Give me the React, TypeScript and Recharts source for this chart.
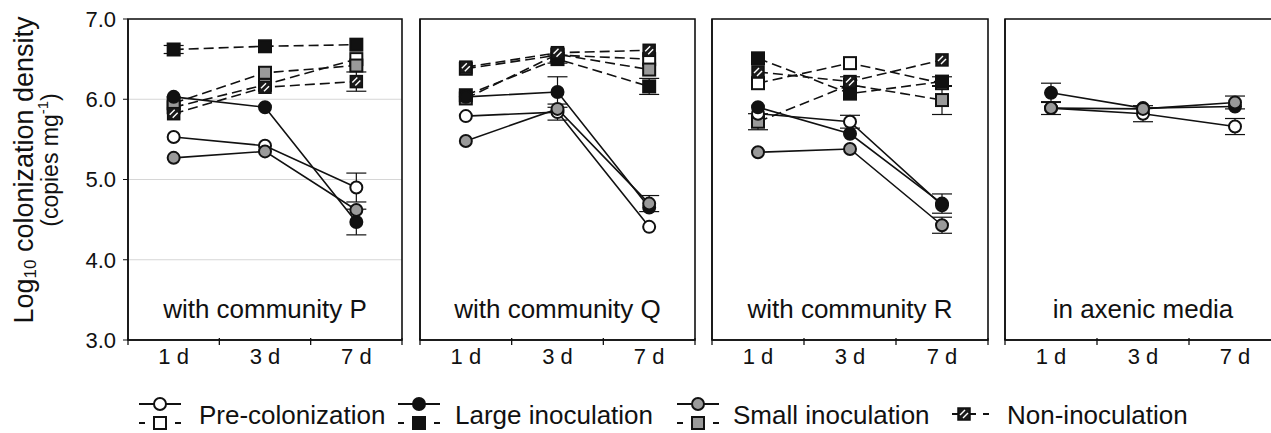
import React from "react";
import {
  LineChart,
  Line,
  XAxis,
  YAxis,
  CartesianGrid,
  ErrorBar,
  ReferenceArea,
} from "recharts";

const days = ["1 d", "3 d", "7 d"];
const panelTitles = ["with community P", "with community Q", "with community R", "in axenic media"];
const yTicks = [3, 4, 5, 6, 7];

// community P
const pPreC = [5.53, 5.42, 4.9];
const pLargeC = [6.03, 5.9, 4.47];
const pSmallC = [5.27, 5.35, 4.62];
const pPreS = [5.9, 6.18, 6.5];
const pLargeS = [6.62, 6.66, 6.68];
const pSmallS = [5.95, 6.33, 6.42];
const pNonS = [5.82, 6.15, 6.22];
// error bars (0 = hidden behind the marker)
const pPreCErr = [0, 0, 0.18];
const pLargeCErr = [0, 0, 0.16];
const pSmallCErr = [0, 0, 0];
const pPreSErr = [0, 0, 0];
const pLargeSErr = [0.05, 0, 0];
const pSmallSErr = [0, 0, 0];
const pNonSErr = [0, 0, 0.12];

// community Q
const qPreC = [5.79, 5.84, 4.41];
const qLargeC = [6.03, 6.09, 4.65];
const qSmallC = [5.48, 5.88, 4.7];
const qPreS = [6.38, 6.55, 6.5];
const qLargeS = [6.05, 6.5, 6.16];
const qSmallS = [6.01, 6.56, 6.37];
const qNonS = [6.4, 6.58, 6.61];
const qPreCErr = [0, 0.1, 0];
const qLargeCErr = [0, 0.19, 0];
const qSmallCErr = [0, 0, 0.1];
const qPreSErr = [0, 0, 0];
const qLargeSErr = [0, 0.05, 0.1];
const qSmallSErr = [0, 0, 0];
const qNonSErr = [0, 0, 0];

// community R
const rPreC = [5.82, 5.72, 4.68];
const rLargeC = [5.9, 5.57, 4.7];
const rSmallC = [5.34, 5.38, 4.43];
const rPreS = [6.2, 6.45, 6.2];
const rLargeS = [6.51, 6.07, 6.22];
const rSmallS = [5.72, 6.18, 5.99];
const rNonS = [6.34, 6.22, 6.49];
const rPreCErr = [0, 0.08, 0];
const rLargeCErr = [0, 0, 0.12];
const rSmallCErr = [0, 0, 0.1];
const rPreSErr = [0, 0, 0];
const rLargeSErr = [0, 0, 0.06];
const rSmallSErr = [0.1, 0, 0.18];
const rNonSErr = [0, 0.06, 0];

// axenic media
const aPreC = [5.89, 5.82, 5.66];
const aLargeC = [6.08, 5.89, 5.91];
const aSmallC = [5.89, 5.88, 5.96];
const aPreCErr = [0.08, 0.1, 0.1];
const aLargeCErr = [0.12, 0, 0];
const aSmallCErr = [0, 0, 0.08];

type Kind = "circle" | "square";
type SeriesDef = { key: string; kind: Kind; fill: string };

const squareSeries: SeriesDef[] = [
  { key: "preS", kind: "square", fill: "#ffffff" },
  { key: "smallS", kind: "square", fill: "#9a9a9a" },
  { key: "largeS", kind: "square", fill: "#111111" },
  { key: "nonS", kind: "square", fill: "hatch" },
];
const circleSeries: SeriesDef[] = [
  { key: "preC", kind: "circle", fill: "#ffffff" },
  { key: "largeC", kind: "circle", fill: "#111111" },
  { key: "smallC", kind: "circle", fill: "#9a9a9a" },
];

function buildRows(values: Record<string, number[]>, errors: Record<string, number[]>) {
  return days.map((d, i) => {
    const row: Record<string, number | string> = { day: d, x: i + 0.5 };
    Object.keys(values).forEach((k) => {
      row[k] = values[k][i];
      row[k + "Err"] = errors[k][i];
    });
    return row;
  });
}

const panelRows = [
  buildRows(
    { preC: pPreC, largeC: pLargeC, smallC: pSmallC, preS: pPreS, largeS: pLargeS, smallS: pSmallS, nonS: pNonS },
    { preC: pPreCErr, largeC: pLargeCErr, smallC: pSmallCErr, preS: pPreSErr, largeS: pLargeSErr, smallS: pSmallSErr, nonS: pNonSErr }
  ),
  buildRows(
    { preC: qPreC, largeC: qLargeC, smallC: qSmallC, preS: qPreS, largeS: qLargeS, smallS: qSmallS, nonS: qNonS },
    { preC: qPreCErr, largeC: qLargeCErr, smallC: qSmallCErr, preS: qPreSErr, largeS: qLargeSErr, smallS: qSmallSErr, nonS: qNonSErr }
  ),
  buildRows(
    { preC: rPreC, largeC: rLargeC, smallC: rSmallC, preS: rPreS, largeS: rLargeS, smallS: rSmallS, nonS: rNonS },
    { preC: rPreCErr, largeC: rLargeCErr, smallC: rSmallCErr, preS: rPreSErr, largeS: rLargeSErr, smallS: rSmallSErr, nonS: rNonSErr }
  ),
  buildRows(
    { preC: aPreC, largeC: aLargeC, smallC: aSmallC },
    { preC: aPreCErr, largeC: aLargeCErr, smallC: aSmallCErr }
  ),
];

const layout = [
  { left: 0, axisW: 128, plotW: 274 },
  { left: 408, axisW: 12, plotW: 275 },
  { left: 700, axisW: 12, plotW: 276 },
  { left: 993, axisW: 12, plotW: 276 },
];

const INK = "#111";
const FONT = "'Liberation Sans', Arial, sans-serif";

function Marker({ cx, cy, kind, fill }: { cx: number; cy: number; kind: Kind; fill: string }) {
  if (kind === "circle") {
    return <circle cx={cx} cy={cy} r={6} fill={fill} stroke={INK} strokeWidth={2} />;
  }
  if (fill === "hatch") {
    return (
      <g>
        <rect x={cx - 6} y={cy - 6} width={12} height={12} fill="#1a1a1a" stroke={INK} strokeWidth={1.5} />
        <line x1={cx - 4} y1={cy + 1} x2={cx + 1} y2={cy - 4} stroke="#fff" strokeWidth={1.4} />
        <line x1={cx - 1} y1={cy + 4} x2={cx + 4} y2={cy - 1} stroke="#fff" strokeWidth={1.4} />
      </g>
    );
  }
  return <rect x={cx - 6} y={cy - 6} width={12} height={12} fill={fill} stroke={INK} strokeWidth={2} />;
}

function XTick(props: any) {
  const { x, y, payload } = props;
  const v = payload.value as number;
  if (Number.isInteger(v)) {
    return <line x1={x} y1={y - 2} x2={x} y2={y + 5} stroke={INK} strokeWidth={1.3} />;
  }
  return (
    <text x={x} y={y + 8} dy="0.71em" textAnchor="middle" fontSize={22} fill={INK} fontFamily={FONT}>
      {days[Math.floor(v)]}
    </text>
  );
}

function Panel({ index }: { index: number }) {
  const { left, axisW, plotW } = layout[index];
  const rows = panelRows[index];
  const series = index === 3 ? circleSeries : [...squareSeries, ...circleSeries];
  const first = index === 0;
  return (
    <div style={{ position: "absolute", left, top: 0 }}>
      <LineChart
        width={axisW + plotW + 4}
        height={380}
        data={rows}
        margin={{ top: 19, right: 4, bottom: 10, left: 0 }}
      >
        <CartesianGrid vertical={false} stroke="#d6d6d6" strokeWidth={1.2} />
        <XAxis
          type="number"
          dataKey="x"
          domain={[0, 3]}
          ticks={[0, 0.5, 1, 1.5, 2, 2.5, 3]}
          interval={0}
          tickLine={false}
          tickSize={0}
          tickMargin={0}
          height={30}
          axisLine={{ stroke: INK, strokeWidth: 1.5 }}
          tick={(p: any) => <XTick {...p} />}
        />
        <YAxis
          type="number"
          domain={[3, 7]}
          ticks={yTicks}
          interval={0}
          width={axisW}
          tickSize={5}
          tickMargin={7}
          axisLine={{ stroke: INK, strokeWidth: 1.5 }}
          tickLine={{ stroke: INK }}
          tick={first ? { fontSize: 22, fill: INK, fontFamily: FONT } : false}
          tickFormatter={(v: number) => v.toFixed(1)}
        />
        <ReferenceArea x1={0} x2={3} y1={3} y2={7} fill="none" stroke={INK} strokeWidth={1.6} ifOverflow="visible" />
        {series.map((s) => (
          <Line
            key={s.key}
            dataKey={s.key}
            type="linear"
            stroke={INK}
            strokeWidth={1.6}
            strokeDasharray={s.kind === "square" ? "10 5" : undefined}
            isAnimationActive={false}
            activeDot={false}
            dot={(p: any) => <Marker key={`${s.key}-${p.index}`} cx={p.cx} cy={p.cy} kind={s.kind} fill={s.fill} />}
          >
            <ErrorBar dataKey={s.key + "Err"} width={10} stroke={INK} strokeWidth={1.2} direction="y" />
          </Line>
        ))}
      </LineChart>
    </div>
  );
}

const legendItems = [
  { label: "Pre-colonization", fill: "#ffffff", cx: 160, tx: 199, twoRow: true },
  { label: "Large inoculation", fill: "#111111", cx: 419, tx: 455, twoRow: true },
  { label: "Small inoculation", fill: "#9a9a9a", cx: 698, tx: 733, twoRow: true },
  { label: "Non-inoculation", fill: "hatch", cx: 977, tx: 1007, twoRow: false },
];

function Overlay() {
  return (
    <svg width={1271} height={433} style={{ position: "absolute", left: 0, top: 0, pointerEvents: "none" }}>
      <text
        transform="translate(24,170) rotate(-90)"
        textAnchor="middle"
        dominantBaseline="central"
        fontSize={27}
        fill={INK}
        fontFamily={FONT}
      >
        Log<tspan fontSize={17} dy={6}>10</tspan>
        <tspan dy={-6}> colonization density</tspan>
      </text>
      <text
        transform="translate(50,160) rotate(-90)"
        textAnchor="middle"
        dominantBaseline="central"
        fontSize={23}
        fill={INK}
        fontFamily={FONT}
      >
        (copies mg<tspan fontSize={15} dy={-8}>-1</tspan>
        <tspan dy={8}>)</tspan>
      </text>
      {panelTitles.map((t, i) => (
        <text
          key={t}
          x={layout[i].left + layout[i].axisW + layout[i].plotW / 2}
          y={318}
          textAnchor="middle"
          fontSize={26}
          fill={INK}
          fontFamily={FONT}
        >
          {t}
        </text>
      ))}
      {legendItems.map((it) => (
        <g key={it.label}>
          {it.twoRow ? (
            <g>
              <line x1={it.cx - 21} y1={404} x2={it.cx + 21} y2={404} stroke={INK} strokeWidth={2} />
              <Marker cx={it.cx} cy={404} kind="circle" fill={it.fill} />
              <line x1={it.cx - 21} y1={423} x2={it.cx - 15} y2={423} stroke={INK} strokeWidth={2} />
              <line x1={it.cx + 15} y1={423} x2={it.cx + 21} y2={423} stroke={INK} strokeWidth={2} />
              <Marker cx={it.cx} cy={423} kind="square" fill={it.fill} />
            </g>
          ) : (
            <g>
              <line x1={it.cx - 25} y1={414} x2={it.cx - 19} y2={414} stroke={INK} strokeWidth={2} />
              <line x1={it.cx - 7} y1={414} x2={it.cx - 1} y2={414} stroke={INK} strokeWidth={2} />
              <line x1={it.cx + 6} y1={414} x2={it.cx + 12} y2={414} stroke={INK} strokeWidth={2} />
              <Marker cx={it.cx - 13} cy={414} kind="square" fill={it.fill} />
            </g>
          )}
          <text x={it.tx} y={415} dominantBaseline="central" fontSize={26} fill={INK} fontFamily={FONT}>
            {it.label}
          </text>
        </g>
      ))}
    </svg>
  );
}

export default function App() {
  return (
    <div
      style={{
        position: "absolute",
        left: 0,
        top: 0,
        width: 1271,
        height: 433,
        overflow: "hidden",
        background: "#fff",
        fontFamily: FONT,
      }}
    >
      {[0, 1, 2, 3].map((i) => (
        <Panel key={i} index={i} />
      ))}
      <Overlay />
    </div>
  );
}
